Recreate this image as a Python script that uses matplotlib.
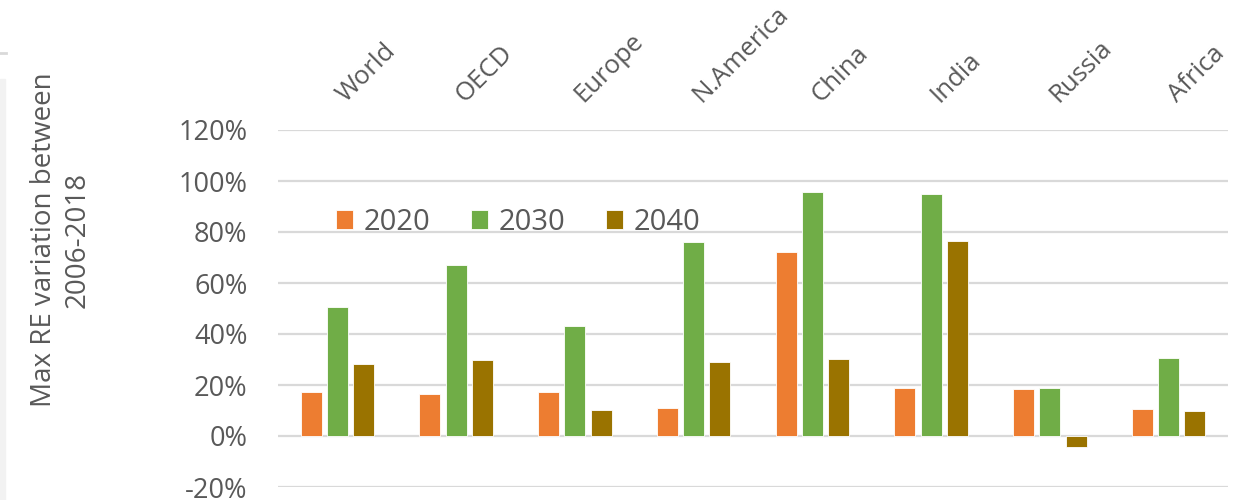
import numpy as np
import matplotlib.pyplot as plt
from matplotlib.patches import Rectangle
from matplotlib.lines import Line2D
import matplotlib.transforms as mtransforms

regions = ['World', 'OECD', 'Europe', 'N.America', 'China', 'India', 'Russia', 'Africa']
years = ['2020', '2030', '2040']

# max RE variation between 2006-2018, in %
re_2020 = [17.4, 16.3, 17.4, 11.0, 72.3, 18.8, 18.5, 10.5]
re_2030 = [50.7, 67.1, 43.1, 76.1, 95.5, 94.8, 18.8, 30.6]
re_2040 = [28.1, 29.8, 10.2, 29.0, 30.1, 76.3, -4.3, 9.8]

colors = ['#ED7D31', '#70AD47', '#9A7300']
text_col = '#595959'
grid_col = '#D9D9D9'

plt.rcParams['font.family'] = ['Open Sans', 'DejaVu Sans']

fig = plt.figure(figsize=(12.35, 5), dpi=100)
ax = fig.add_axes([278 / 1235, 1 - 487 / 500, 950 / 1235, 357 / 500])

x = np.arange(len(regions))
width = 0.177
step = 0.221
for k, (vals, year) in enumerate(zip([re_2020, re_2030, re_2040], years)):
    ax.bar(x + (k - 1) * step, vals, width, color=colors[k], label=year,
           edgecolor='white', linewidth=0.6, zorder=3)

ax.set_xlim(-0.5, len(regions) - 0.5)
ax.set_ylim(-20, 120)
ax.set_yticks(np.arange(-20, 121, 20))
ax.set_yticklabels(['%d%%' % v for v in np.arange(-20, 121, 20)])
ax.yaxis.grid(True, color=grid_col, linewidth=1.6, zorder=0)
ax.tick_params(axis='y', length=0, pad=22, labelsize=19.5, labelcolor=text_col)
ax.set_xticks([])
for s in ax.spines.values():
    s.set_visible(False)

# rotated region names above the plot area
trans = mtransforms.blended_transform_factory(ax.transData, ax.transAxes)
for i, name in enumerate(regions):
    ax.text(i + 0.07, 1.075, name, transform=trans, rotation=45,
            rotation_mode='anchor', ha='left', va='baseline',
            fontsize=18.5, color=text_col, clip_on=False)

leg = ax.legend(loc='center left', bbox_to_anchor=(0.061, 0.742), ncol=3,
                frameon=False, fontsize=21, handlelength=0.6, handleheight=0.6,
                handletextpad=0.35, columnspacing=1.39, borderpad=0,
                borderaxespad=0)
for t in leg.get_texts():
    t.set_color(text_col)

fig.text(61 / 1235, 1 - 240 / 500, 'Max RE variation between\n2006-2018',
         rotation=90, ha='center', va='center', multialignment='center',
         fontsize=20, color=text_col, linespacing=1.25)

# light panel edge on the left
fig.patches.append(Rectangle((0, 0), 5 / 1235, 1 - 79 / 500, transform=fig.transFigure,
                             color='#F2F2F2', zorder=0))
fig.lines.append(Line2D([0, 6 / 1235], [1 - 53 / 500, 1 - 53 / 500],
                        transform=fig.transFigure, color='#D9D9D9', linewidth=2))

fig.savefig('out.png', dpi=100)
